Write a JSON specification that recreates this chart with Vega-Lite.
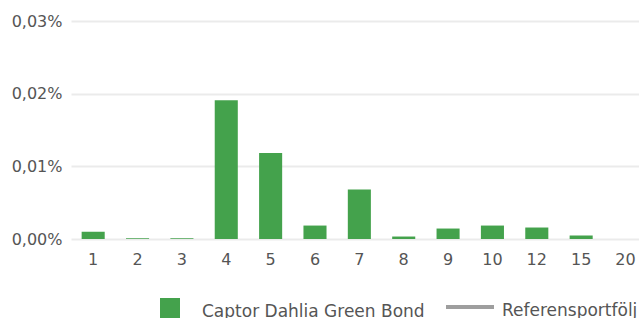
{
  "$schema": "https://vega.github.io/schema/vega-lite/v6.json",
  "width": 568,
  "height": 218,
  "autosize": {"type": "none"},
  "padding": {"left": 71, "top": 21, "right": 0, "bottom": 79},
  "background": "white",
  "config": {
    "view": {"stroke": null},
    "font": "DejaVu Sans",
    "axis": {"labelFont": "DejaVu Sans", "labelColor": "#555555", "labelFontSize": 16, "title": null},
    "legend": {"labelFont": "DejaVu Sans", "labelColor": "#555555", "labelFontSize": 17, "labelLimit": 0, "padding": 0, "title": null}
  },
  "datasets": {
    "fond": [
      {"serie": "Captor Dahlia Green Bond", "löptid": "1", "andel": 0.0010},
      {"serie": "Captor Dahlia Green Bond", "löptid": "2", "andel": 0.0001},
      {"serie": "Captor Dahlia Green Bond", "löptid": "3", "andel": 0.0001},
      {"serie": "Captor Dahlia Green Bond", "löptid": "4", "andel": 0.0191},
      {"serie": "Captor Dahlia Green Bond", "löptid": "5", "andel": 0.01185},
      {"serie": "Captor Dahlia Green Bond", "löptid": "6", "andel": 0.00185},
      {"serie": "Captor Dahlia Green Bond", "löptid": "7", "andel": 0.0068},
      {"serie": "Captor Dahlia Green Bond", "löptid": "8", "andel": 0.00034},
      {"serie": "Captor Dahlia Green Bond", "löptid": "9", "andel": 0.00144},
      {"serie": "Captor Dahlia Green Bond", "löptid": "10", "andel": 0.00185},
      {"serie": "Captor Dahlia Green Bond", "löptid": "12", "andel": 0.00158},
      {"serie": "Captor Dahlia Green Bond", "löptid": "15", "andel": 0.00048},
      {"serie": "Captor Dahlia Green Bond", "löptid": "20", "andel": 0}
    ],
    "referens": [
      {"serie": "Referensportfölj", "löptid": "1", "andel": null}
    ]
  },
  "layer": [
    {
      "data": {"name": "fond"},
      "mark": {"type": "bar", "color": "#44a24c"},
      "encoding": {
        "x": {
          "field": "löptid", "type": "ordinal",
          "sort": ["1", "2", "3", "4", "5", "6", "7", "8", "9", "10", "12", "15", "20"],
          "scale": {"range": [0, 576.7], "paddingInner": 0.48, "paddingOuter": 0.24},
          "axis": {"labelAngle": 0, "ticks": false, "domain": false, "grid": false, "labelPadding": 12}
        },
        "y": {
          "field": "andel", "type": "quantitative",
          "scale": {"domain": [0, 0.03], "nice": false},
          "axis": {
            "values": [0, 0.01, 0.02, 0.03],
            "labelExpr": "replace(format(datum.value, '.2f'), '.', ',') + '%'",
            "ticks": false, "tickSize": 0, "domain": false, "labelPadding": 9,
            "grid": true, "gridColor": "#ebebeb", "gridWidth": 2
          }
        },
        "fill": {
          "field": "serie", "type": "nominal",
          "scale": {"domain": ["Captor Dahlia Green Bond"], "range": ["#44a24c"]},
          "legend": {
            "orient": "none", "legendX": 89, "legendY": 277,
            "symbolType": "square", "symbolSize": 400, "symbolStrokeWidth": 0,
            "labelOffset": 22,
            "encode": {"labels": {"update": {"dy": {"value": 4}}}}
          }
        }
      }
    },
    {
      "data": {"name": "referens"},
      "mark": {"type": "line", "strokeWidth": 3},
      "encoding": {
        "x": {
          "field": "löptid", "type": "ordinal",
          "sort": ["1", "2", "3", "4", "5", "6", "7", "8", "9", "10", "12", "15", "20"]
        },
        "y": {"field": "andel", "type": "quantitative"},
        "stroke": {
          "field": "serie", "type": "nominal",
          "scale": {"domain": ["Referensportfölj"], "range": ["#9e9e9e"]},
          "legend": {
            "orient": "none", "legendX": 373, "legendY": 260,
            "symbolType": "stroke", "symbolSize": 2304, "symbolStrokeWidth": 4,
            "labelOffset": 6,
            "encode": {"labels": {"update": {"dy": {"value": 4}}}}
          }
        }
      }
    }
  ]
}
